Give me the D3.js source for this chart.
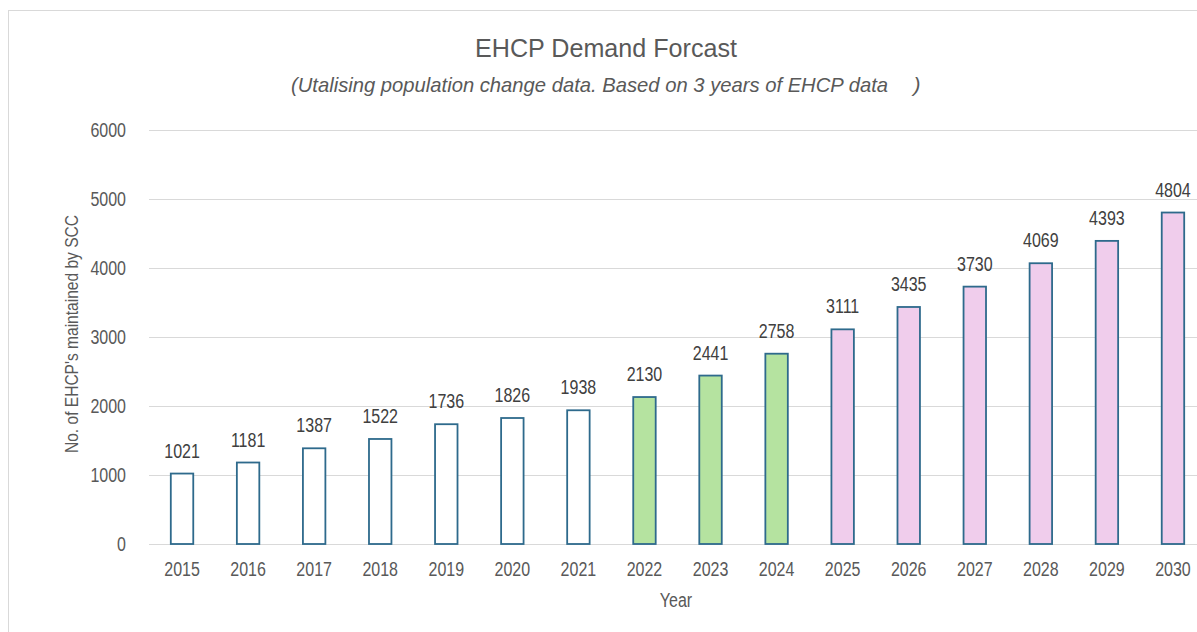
<!DOCTYPE html>
<html><head><meta charset="utf-8">
<script src="https://cdn.jsdelivr.net/npm/d3@7"></script>
<style>
html,body{margin:0;padding:0;background:#fff;overflow:hidden}
svg{display:block}
</style></head>
<body><svg id="c" width="1197" height="632"></svg>
<script>
const years = ["2015","2016","2017","2018","2019","2020","2021","2022","2023","2024","2025","2026","2027","2028","2029","2030"];
const values = [1021,1181,1387,1522,1736,1826,1938,2130,2441,2758,3111,3435,3730,4069,4393,4804];
const groups = ["actual","actual","actual","actual","actual","actual","actual","recent","recent","recent","forecast","forecast","forecast","forecast","forecast","forecast"];
const groupKeys = ["actual","recent","forecast"];
const groupFills = ["#ffffff","#b5e3a0","#f0cdec"];
const yTicks = [0,1000,2000,3000,4000,5000,6000];
const title = "EHCP Demand Forcast";
const subtitle = "(Utalising population change data. Based on 3 years of EHCP data";
const subtitleClose = ")";
const xTitle = "Year";
const yTitle = "No. of EHCP's maintained by SCC";

const font = "'Liberation Sans Narrow','Arial Narrow','Liberation Sans',Arial,sans-serif";
const sx = 0.8; // horizontal condensing
const svg = d3.select("#c");
const m = {left:149, right:1206, top:130, bottom:544};

svg.append("rect").attr("x",8.5).attr("y",10.5).attr("width",1250).attr("height",700)
  .attr("fill","#fff").attr("stroke","#d9d9d9");

const x = d3.scaleBand().domain(years).range([m.left,m.right]).paddingInner(0.66).paddingOuter(0.33);
const y = d3.scaleLinear().domain([0,6000]).range([m.bottom,m.top]);
const fill = d3.scaleOrdinal().domain(groupKeys).range(groupFills);

function label(g, px, py, anchor, size, color, txt, extra){
  const t = g.append("text").attr("transform",`translate(${px},${py}) scale(${sx},1)`)
    .attr("text-anchor",anchor).attr("font-family",font).attr("font-size",size).attr("fill",color).text(txt);
  return t;
}

// gridlines
svg.append("g").selectAll("line").data(yTicks).join("line")
  .attr("x1",m.left).attr("x2",1197).attr("y1",d=>Math.round(y(d))+0.5).attr("y2",d=>Math.round(y(d))+0.5)
  .attr("stroke","#d9d9d9").attr("stroke-width",1);

// y labels
const gy = svg.append("g");
yTicks.forEach(d=>label(gy,126,y(d)+7,"end",20,"#595959",d));

// x labels
const gx = svg.append("g");
years.forEach(d=>label(gx,x(d)+x.bandwidth()/2,576,"middle",20,"#595959",d));

// bars
svg.append("g").selectAll("rect").data(years).join("rect")
  .attr("x",d=>x(d)).attr("width",x.bandwidth())
  .attr("y",(d,i)=>y(values[i])).attr("height",(d,i)=>y(0)-y(values[i]))
  .attr("fill",(d,i)=>fill(groups[i])).attr("stroke","#2e6a8c").attr("stroke-width",1.8);

// value labels
const gv = svg.append("g");
years.forEach((d,i)=>label(gv,x(d)+x.bandwidth()/2,y(values[i])-16,"middle",20,"#404040",values[i]));

// titles
svg.append("text").attr("x",475).attr("y",57).attr("textLength",262).attr("lengthAdjust","spacingAndGlyphs")
  .attr("font-family",font).attr("font-size",26).attr("fill","#595959").text(title);
svg.append("text").attr("x",291).attr("y",92).attr("textLength",597).attr("lengthAdjust","spacingAndGlyphs")
  .attr("font-style","italic")
  .attr("font-family",font).attr("font-size",21).attr("fill","#595959").text(subtitle);
svg.append("text").attr("x",917).attr("y",92).attr("text-anchor","middle").attr("font-style","italic")
  .attr("font-family",font).attr("font-size",21).attr("fill","#595959").text(subtitleClose);
label(svg,676,607,"middle",20,"#595959",xTitle);
svg.append("text").attr("transform","translate(78,334) rotate(-90)").attr("x",-119)
  .attr("textLength",238).attr("lengthAdjust","spacingAndGlyphs")
  .attr("font-family",font).attr("font-size",19).attr("fill","#595959").text(yTitle);
</script></body></html>
